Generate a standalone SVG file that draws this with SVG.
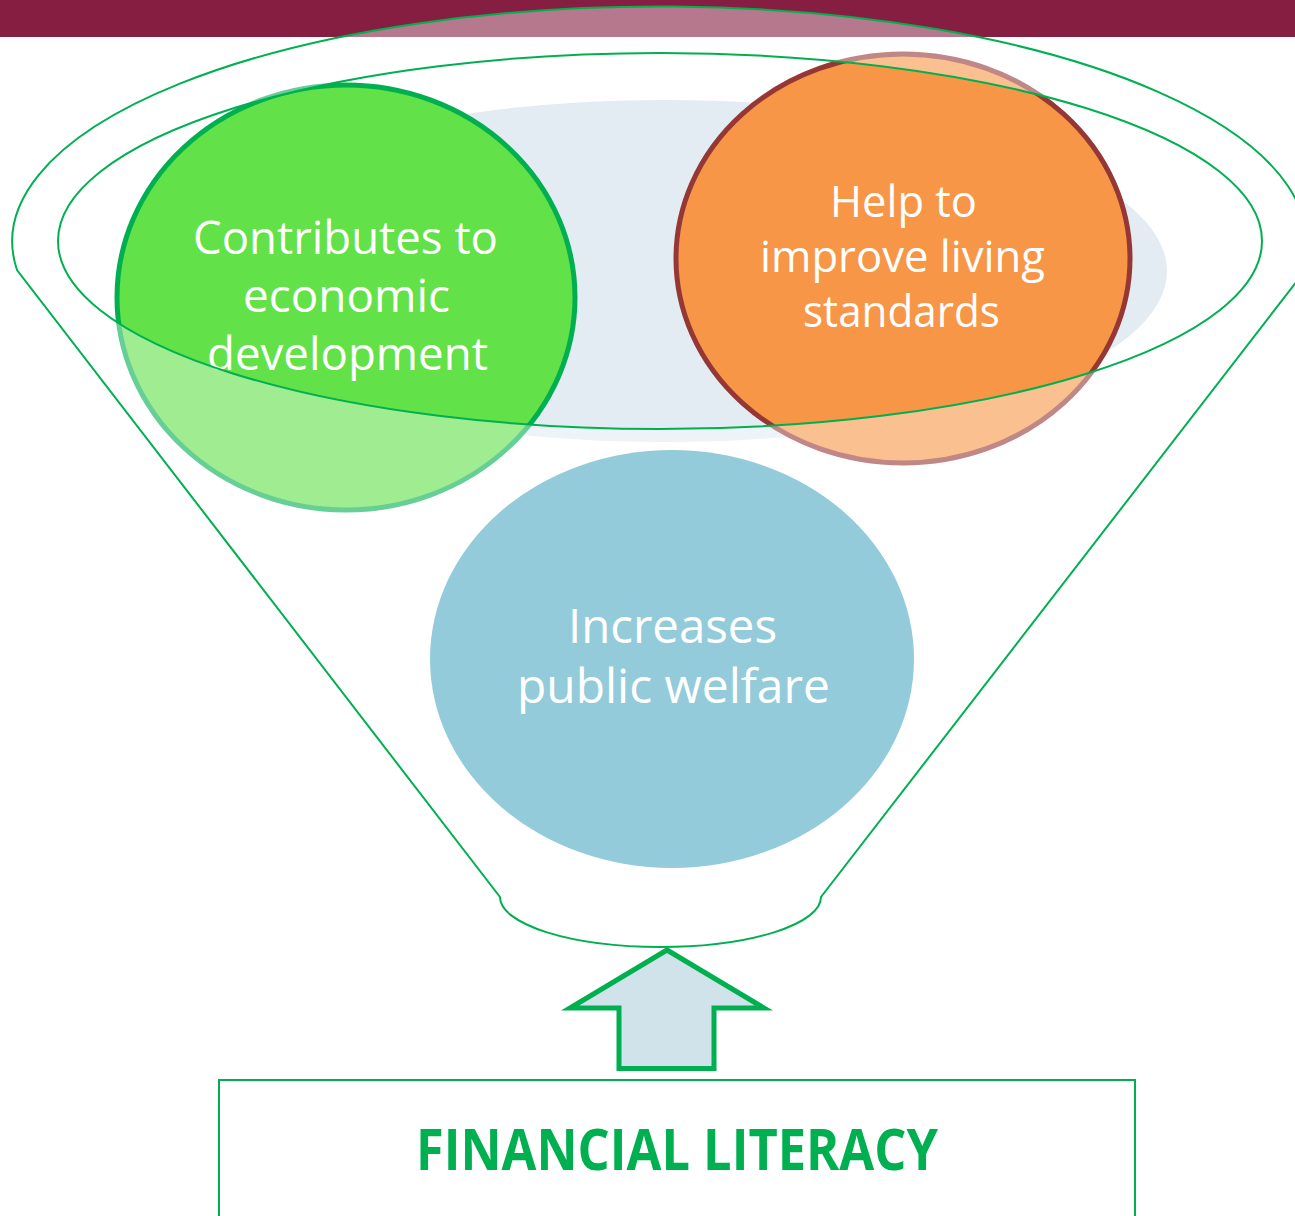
<svg xmlns="http://www.w3.org/2000/svg" width="1295" height="1216" viewBox="0 0 1295 1216">
  <style>
    .label { font-family: "Open Sans", "Liberation Sans", sans-serif; fill: #FFFFFF; text-anchor: start; }
    .funnel-line { fill: none; stroke: #00B050; stroke-width: 2; }
    .title { font-family: "Open Sans", "Liberation Sans", sans-serif; font-weight: bold; fill: #00B050; text-anchor: start; }
  </style>

  <rect id="header-bar" x="0" y="0" width="1295" height="37" fill="#861E42"/>

  <!-- soft backdrop behind the two upper bubbles -->
  <g id="backdrop">
    <ellipse cx="665" cy="271" rx="502" ry="171" fill="#E3ECF2"/>
  </g>

  <g id="node-economic">
    <ellipse cx="346" cy="297.5" rx="229" ry="212.5" fill="#62E148" stroke="#00B050" stroke-width="5"/>
    <text class="label" font-size="46">
      <tspan x="193" y="254" textLength="305" lengthAdjust="spacingAndGlyphs">Contributes to</tspan>
      <tspan x="243" y="312" textLength="207" lengthAdjust="spacingAndGlyphs">economic</tspan>
      <tspan x="207" y="370" textLength="281" lengthAdjust="spacingAndGlyphs">development</tspan>
    </text>
  </g>

  <g id="node-living">
    <ellipse cx="903" cy="258.5" rx="227" ry="204.5" fill="#F79646" stroke="#953735" stroke-width="5"/>
    <text class="label" font-size="43">
      <tspan x="830" y="217" textLength="147" lengthAdjust="spacingAndGlyphs">Help to</tspan>
      <tspan x="760" y="272" textLength="285" lengthAdjust="spacingAndGlyphs">improve living</tspan>
      <tspan x="803" y="327" textLength="197" lengthAdjust="spacingAndGlyphs">standards</tspan>
    </text>
  </g>

  <!-- funnel: translucent body with the open rim cut out, then its outlines -->
  <g id="funnel">
    <path fill="#FFFFFF" fill-opacity="0.4" fill-rule="evenodd"
          d="M 17 270 A 647 235 0 1 1 1297 281 L 821 897 A 160.5 50 0 0 1 500 897 Z
             M 58 241 A 602 188 0 1 0 1262 241 A 602 188 0 1 0 58 241 Z"/>
    <path class="funnel-line" d="M 17 270 A 647 235 0 1 1 1297 281 L 821 897 A 160.5 50 0 0 1 500 897 Z"/>
    <ellipse class="funnel-line" cx="660" cy="241" rx="602" ry="188"/>
  </g>

  <g id="node-welfare">
    <ellipse cx="672" cy="659" rx="242" ry="209" fill="#94CBDA"/>
    <text class="label" font-size="48">
      <tspan x="568" y="643" textLength="209" lengthAdjust="spacingAndGlyphs">Increases</tspan>
      <tspan x="517" y="703" textLength="313" lengthAdjust="spacingAndGlyphs">public welfare</tspan>
    </text>
  </g>

  <g id="connectors">
    <path d="M 667 950 L 764 1008 L 714 1008 L 714 1068.5 L 619 1068.5 L 619 1008 L 570 1008 Z"
          fill="#D0E2EA" stroke="#00B050" stroke-width="5" stroke-linejoin="miter"/>
  </g>

  <g id="node-financial-literacy">
    <rect x="219" y="1080" width="916" height="160" fill="#FFFFFF" stroke="#00B050" stroke-width="2"/>
    <text class="title" x="416" y="1170" font-size="57" textLength="522" lengthAdjust="spacingAndGlyphs">FINANCIAL LITERACY</text>
  </g>
</svg>
